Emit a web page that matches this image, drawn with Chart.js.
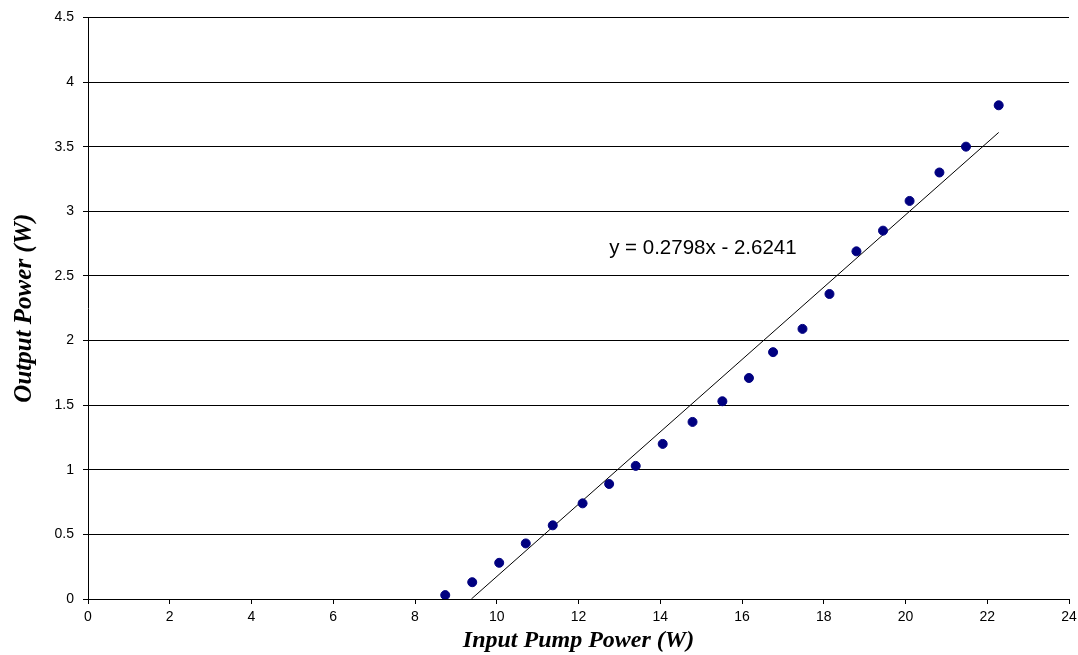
<!DOCTYPE html>
<html>
<head>
<meta charset="utf-8">
<script src="https://cdn.jsdelivr.net/npm/chart.js@4.4.0/dist/chart.umd.min.js"></script>
<style>
  html, body { margin: 0; padding: 0; background: #fff; }
  #wrap { width: 1078px; height: 655px; position: relative; }
</style>
</head>
<body>
<div id="wrap"><canvas id="powerChart"></canvas></div>
<script>
// measured points (input pump power W -> output power W)
const pumpPower = [8.74, 9.40, 10.06, 10.71, 11.37, 12.10, 12.75, 13.40, 14.06, 14.79, 15.52,
                   16.17, 16.76, 17.48, 18.14, 18.80, 19.45, 20.10, 20.83, 21.48, 22.28];
const outputPower = [0.03, 0.13, 0.28, 0.43, 0.57, 0.74, 0.89, 1.03, 1.20, 1.37, 1.53,
                     1.71, 1.91, 2.09, 2.36, 2.69, 2.85, 3.08, 3.30, 3.50, 3.82];

// linear trendline as printed on the chart
const trendSlope = 0.2798;
const trendIntercept = -2.6241;
const trendRange = [9.38, 22.28];
const trendLabel = 'y = 0.2798x - 2.6241';
const trendLabelPos = { x: 12.75, y: 2.71 };

const xTitle = 'Input Pump Power (W)';
const yTitle = 'Output Power (W)';

const points = pumpPower.map((x, i) => ({ x: x, y: outputPower[i] }));
const trendPoints = trendRange.map(x => ({ x: x, y: trendSlope * x + trendIntercept }));

const tickFont = { family: '"Liberation Sans", Arial, sans-serif', size: 14 };

// draws the equation text next to the trendline
const equationLabel = {
  id: 'equationLabel',
  afterDatasetsDraw(chart) {
    const ctx = chart.ctx;
    const xs = chart.scales.x, ys = chart.scales.y;
    ctx.save();
    ctx.font = '20.5px "Liberation Sans", Arial, sans-serif';
    ctx.fillStyle = '#000';
    ctx.textAlign = 'left';
    ctx.textBaseline = 'middle';
    ctx.fillText(trendLabel, xs.getPixelForValue(trendLabelPos.x), ys.getPixelForValue(trendLabelPos.y));
    ctx.restore();
  }
};

const ctx = document.getElementById('powerChart').getContext('2d');
const chart = new Chart(ctx, {
  type: 'scatter',
  data: {
    datasets: [
      {
        label: 'Trend',
        type: 'line',
        data: trendPoints,
        borderColor: '#000',
        borderWidth: 1,
        pointRadius: 0,
        fill: false,
        order: 2
      },
      {
        label: 'Output',
        data: points,
        backgroundColor: '#000080',
        borderColor: '#000080',
        pointRadius: 4.5,
        pointHoverRadius: 4.5,
        order: 1
      }
    ]
  },
  options: {
    responsive: true,
    maintainAspectRatio: false,
    animation: false,
    layout: { padding: { top: 17, right: 9, left: 0, bottom: 0 } },
    plugins: {
      legend: { display: false },
      tooltip: { enabled: false }
    },
    scales: {
      x: {
        type: 'linear',
        min: 0,
        max: 24,
        afterFit: (scale) => {
          scale.height = 56;
          scale.paddingLeft = 0;
          scale.paddingRight = 0;
        },
        ticks: {
          stepSize: 2,
          padding: 5,
          color: '#000',
          font: tickFont
        },
        grid: {
          drawOnChartArea: false,
          drawTicks: true,
          tickLength: 5,
          color: '#000'
        },
        border: { color: '#000', width: 1 },
        title: {
          display: true,
          text: xTitle,
          color: '#000',
          padding: { top: 0, bottom: 0 },
          font: { family: '"Liberation Serif", "Times New Roman", serif', size: 24, weight: 'bold', style: 'italic' }
        }
      },
      y: {
        type: 'linear',
        min: 0,
        max: 4.5,
        afterFit: (scale) => { scale.width = 88; },
        ticks: {
          stepSize: 0.5,
          padding: 9,
          color: '#000',
          font: tickFont,
          callback: (v) => String(v)
        },
        grid: {
          color: '#000',
          lineWidth: 1,
          drawTicks: true,
          tickLength: 5
        },
        border: { color: '#000', width: 1 },
        title: {
          display: true,
          text: yTitle,
          color: '#000',
          padding: { top: 10, bottom: 0 },
          font: { family: '"Liberation Serif", "Times New Roman", serif', size: 25, weight: 'bold', style: 'italic' }
        }
      }
    }
  },
  plugins: [equationLabel]
});
</script>
</body>
</html>
